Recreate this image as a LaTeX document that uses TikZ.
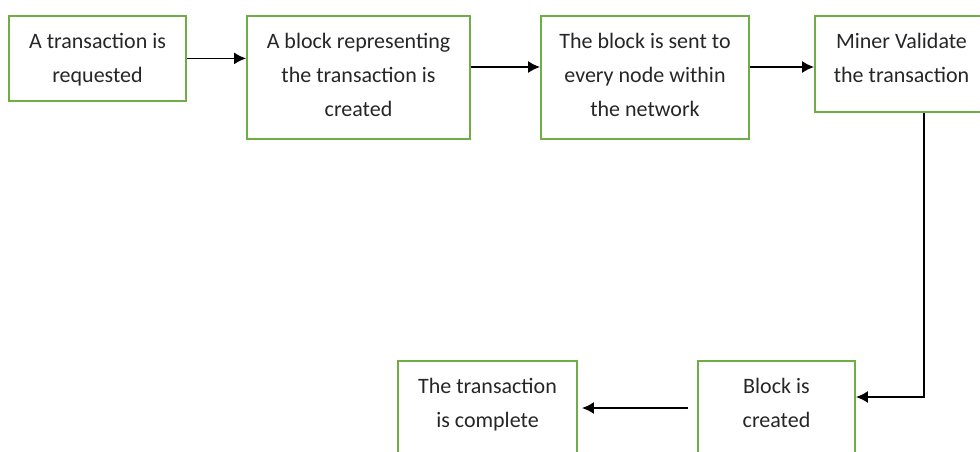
\documentclass[tikz,border=0pt]{standalone}
\usepackage{fontspec}
\setmainfont{Carlito}
\usetikzlibrary{arrows.meta,positioning,calc}
\definecolor{boxgreen}{RGB}{112,173,71}
\definecolor{inkgray}{RGB}{38,38,38}

\begin{document}
\begin{tikzpicture}[
  stepbox/.style={rectangle,draw=boxgreen,line width=0.9pt,align=center,
                  anchor=north,inner xsep=0pt,inner ysep=0pt,
                  font=\fontsize{11}{17}\selectfont,text=inkgray},
  twoline/.style={text height=33.5pt},
  threeline/.style={text height=50.5pt},
  arrow/.style={-{Latex[length=6pt,width=6pt]},line width=0.9pt,black}]
\useasboundingbox (0,0) rectangle (490pt,-225.5pt);
\clip (0,0) rectangle (490pt,-225.5pt);
% top row, left to right
\node[stepbox,twoline,minimum width=88.5pt,text depth=9pt]      (req)   at (48.75pt,-7.5pt)  {A transaction is\\requested};
\node[stepbox,threeline,minimum width=111.5pt,text depth=11pt]  (blk)   at (179.25pt,-7.5pt) {A block representing\\the transaction is\\created};
\node[stepbox,threeline,minimum width=104pt,text depth=11pt]    (sent)  at (322.5pt,-7.5pt)  {The block is sent to\\every node within\\the network};
\node[stepbox,twoline,minimum width=86.5pt,text depth=14.5pt]   (miner) at (450.75pt,-7.5pt) {Miner Validate\\the transaction};
% bottom row, right to left
\node[stepbox,twoline,minimum width=78.5pt,text depth=30pt]     (made)  at (388.25pt,-180pt) {Block is\\created};
\node[stepbox,twoline,minimum width=89.5pt,text depth=30pt]     (done)  at (243.75pt,-180pt) {The transaction\\is complete};
\draw[arrow] (req.east) -- (blk.west |- req.east);
\draw[arrow] ([yshift=-26pt]blk.north east) -- ([yshift=-26pt]blk.north east -| sent.west);
\draw[arrow] ([yshift=-26pt]sent.north east) -- ([yshift=-26pt]sent.north east -| miner.west);
\draw[arrow] ([xshift=11.25pt]miner.south) |- ([yshift=-18.5pt]made.north east);
\draw[arrow] ([xshift=-4.5pt,yshift=-24pt]made.north west) -- ([xshift=2pt,yshift=-24pt]done.north east);
\end{tikzpicture}
\end{document}
